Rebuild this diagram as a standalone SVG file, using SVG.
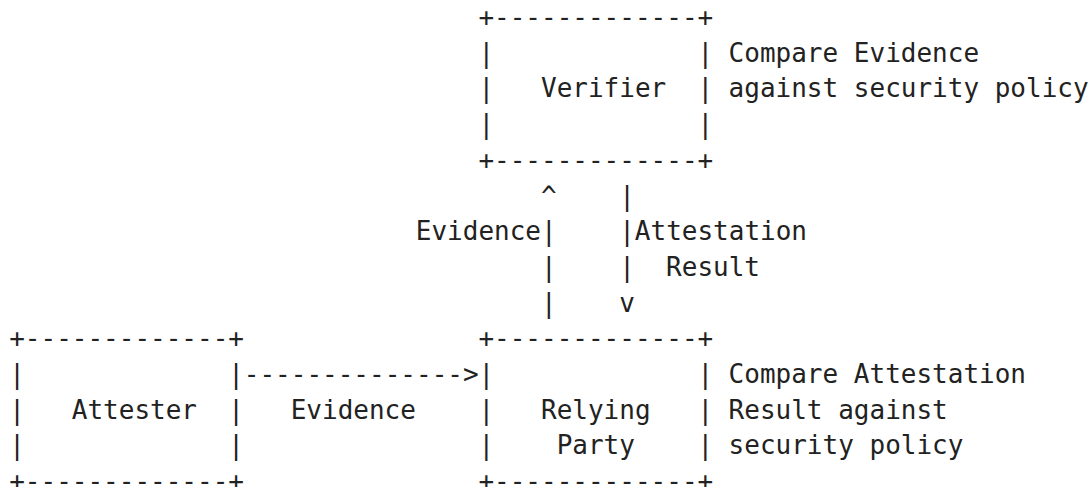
<svg xmlns="http://www.w3.org/2000/svg" width="1089" height="487" viewBox="0 0 1089 487" xml:space="preserve">
<style>
text{font-family:"DejaVu Sans Mono","Liberation Mono",monospace;font-size:26px;fill:#222;white-space:pre}
</style>
<rect width="1089" height="487" fill="#fff"/>
<g id="verifier">
<text x="478.4" y="26">+-------------+</text>
<text x="478.4" y="61.7">|             |</text>
<text x="478.4" y="97.4">|   Verifier  |</text>
<text x="478.4" y="133.1">|             |</text>
<text x="478.4" y="168.8">+-------------+</text>
</g>
<g id="verifier-note">
<text x="728.6" y="61.7">Compare Evidence</text>
<text x="728.6" y="97.4">against security policy</text>
</g>
<g id="attester">
<text x="9.2" y="347.3">+-------------+</text>
<text x="9.2" y="383">|             |</text>
<text x="9.2" y="418.7">|   Attester  |</text>
<text x="9.2" y="454.4">|             |</text>
<text x="9.2" y="490.1">+-------------+</text>
</g>
<g id="relying-party">
<text x="478.4" y="347.3">+-------------+</text>
<text x="478.4" y="383">|             |</text>
<text x="478.4" y="418.7">|   Relying   |</text>
<text x="478.4" y="454.4">|    Party    |</text>
<text x="478.4" y="490.1">+-------------+</text>
</g>
<g id="relying-party-note">
<text x="728.6" y="383">Compare Attestation</text>
<text x="728.6" y="418.7">Result against</text>
<text x="728.6" y="454.4">security policy</text>
</g>
<g id="connectors">
<text x="541" y="204.5">^</text>
<text x="619.2" y="204.5">|</text>
<text x="415.8" y="240.2">Evidence|</text>
<text x="619.2" y="240.2">|Attestation</text>
<text x="541" y="275.9">|</text>
<text x="619.2" y="275.9">|</text>
<text x="666.1" y="275.9">Result</text>
<text x="541" y="311.6">|</text>
<text x="619.2" y="311.6">v</text>
<text x="243.8" y="383">--------------&gt;</text>
<text x="290.7" y="418.7">Evidence</text>
</g>
</svg>
